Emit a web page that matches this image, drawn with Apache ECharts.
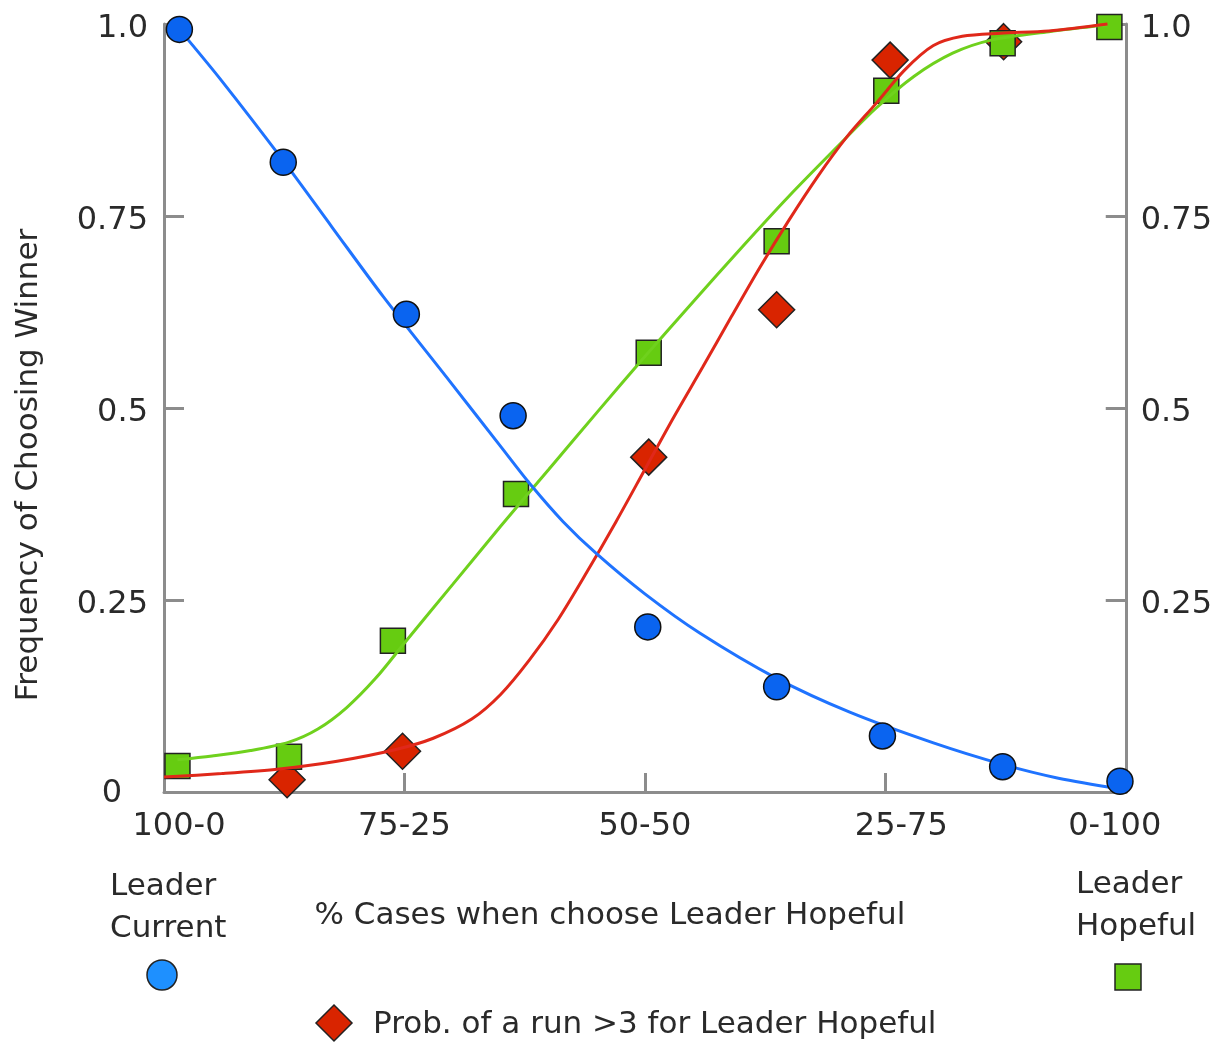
<!DOCTYPE html>
<html>
<head>
<meta charset="utf-8">
<style>
html,body{margin:0;padding:0;background:#fff;}
#chart{width:1215px;height:1043px;}
</style>
<script src="https://cdn.jsdelivr.net/npm/echarts@6/dist/echarts.min.js"></script>
</head>
<body>
<div id="chart"></div>
<script>
// ---- data ----
var xTickLabels = ['100-0', '75-25', '50-50', '25-75', '0-100'];
var yTickLabels = ['0', '0.25', '0.5', '0.75', '1.0'];

var currentX = [1.6, 12.4, 25.2, 36.3, 50.3, 63.7, 74.7, 87.2, 99.4];
var currentY = [0.993, 0.82, 0.622, 0.49, 0.215, 0.137, 0.073, 0.033, 0.014];

var hopefulX = [1.4, 13.0, 23.8, 36.6, 50.4, 63.7, 75.1, 87.2, 98.3];
var hopefulY = [0.034, 0.046, 0.197, 0.388, 0.572, 0.717, 0.913, 0.975, 0.996];

var runX = [12.8, 24.8, 50.4, 63.7, 75.5, 87.3];
var runY = [0.016, 0.053, 0.436, 0.628, 0.953, 0.977];

var currentCurve = [[1.6,0.993],[6,0.926],[12.4,0.822],[17.5,0.735],[22.8,0.645],[29.7,0.535],[35,0.45],[38,0.402],[41.5,0.352],[45,0.31],[50,0.258],[55.7,0.207],[63.7,0.148],[71.3,0.104],[80,0.064],[87.2,0.036],[93,0.018],[99.4,0.004]];
var hopefulCurve = [[1.4,0.042],[5,0.047],[9,0.054],[13,0.065],[16,0.082],[19,0.11],[22,0.148],[25,0.194],[30,0.27],[35,0.346],[40,0.42],[45,0.494],[50,0.567],[55,0.638],[60,0.708],[65,0.776],[70,0.84],[74,0.89],[78,0.932],[82,0.962],[86,0.979],[92,0.99],[98.1,0.999]];
var runCurve = [[0,0.0195],[6,0.024],[12,0.03],[18,0.04],[24,0.055],[28,0.07],[32,0.095],[35,0.127],[38,0.172],[41,0.225],[44,0.287],[47,0.352],[50,0.42],[53,0.488],[56,0.553],[59,0.619],[62,0.684],[65,0.745],[68,0.802],[71,0.853],[74,0.896],[77,0.94],[80,0.972],[83,0.984],[87,0.988],[92,0.991],[98.1,1.0]];

// ---- styles ----
var FONT = 'DejaVu Sans';
var TXT = '#2a2a2a';
var AXIS = '#8c8c8c';
var FS = 31;
var TFS = 32;

function zip(xs, ys) { return xs.map(function (x, i) { return [x, ys[i]]; }); }

var xRichKeys = ['a', 'm', 'm', 'b', 'c'];
function baseRich(pad) { return { fontFamily: FONT, fontSize: TFS, color: TXT, padding: pad }; }

var chart = echarts.init(document.getElementById('chart'));
chart.setOption({
  animation: false,
  backgroundColor: '#fff',
  grid: { left: 164, right: 89, top: 24, bottom: 251 },
  xAxis: {
    type: 'value', min: 0, max: 100, interval: 25,
    name: '% Cases when choose Leader Hopeful',
    nameLocation: 'middle', nameGap: 108,
    nameTextStyle: { fontFamily: FONT, fontSize: FS, color: TXT, padding: [0, 70, 0, 0] },
    axisLine: { show: true, lineStyle: { color: AXIS, width: 3 } },
    axisTick: { show: true, inside: true, length: 19, lineStyle: { color: AXIS, width: 3 } },
    splitLine: { show: false },
    axisLabel: {
      margin: 19,
      formatter: function (v) { var i = Math.round(v / 25); return '{' + xRichKeys[i] + '|' + xTickLabels[i] + '}'; },
      rich: { a: baseRich([0, 0, 0, 30]), m: baseRich([0, 0, 0, 0]), b: baseRich([0, 0, 0, 32]), c: baseRich([0, 22, 0, 0]) }
    }
  },
  yAxis: [{
    type: 'value', min: 0, max: 1, interval: 0.25, position: 'left',
    name: 'Frequency of Choosing Winner',
    nameLocation: 'middle', nameGap: 120, nameRotate: 90,
    nameTextStyle: { fontFamily: FONT, fontSize: FS, color: TXT, padding: [0, 114, 0, 0] },
    axisLine: { show: true, lineStyle: { color: AXIS, width: 3 } },
    axisTick: { show: true, inside: true, length: 20, lineStyle: { color: AXIS, width: 3 } },
    splitLine: { show: false },
    axisLabel: {
      margin: 16,
      formatter: function (v) { var i = Math.round(v / 0.25); return i === 0 ? '{z|' + yTickLabels[i] + '}' : '{n|' + yTickLabels[i] + '}'; },
      rich: { z: baseRich([4, 26, 0, 0]), n: baseRich([9, 0, 0, 0]) }
    }
  }, {
    type: 'value', min: 0, max: 1, interval: 0.25, position: 'right',
    axisLine: { show: true, lineStyle: { color: AXIS, width: 3 } },
    axisTick: { show: true, inside: true, length: 20, lineStyle: { color: AXIS, width: 3 } },
    splitLine: { show: false },
    axisLabel: {
      margin: 15,
      formatter: function (v) { var i = Math.round(v / 0.25); return i === 0 ? '' : '{n|' + yTickLabels[i] + '}'; },
      rich: { n: baseRich([9, 0, 0, 0]) }
    }
  }],
  series: [
    { name: 'Prob. of a run >3 for Leader Hopeful', type: 'scatter', z: 2, clip: false,
      symbol: 'diamond', symbolSize: 36, data: zip(runX, runY),
      itemStyle: { color: '#d92400', opacity: 1, borderColor: '#222', borderWidth: 1.5 } },
    { name: 'Leader Hopeful', type: 'scatter', z: 3, clip: false,
      symbol: 'rect', symbolSize: 25, data: zip(hopefulX, hopefulY),
      itemStyle: { color: '#66cc11', opacity: 1, borderColor: '#222', borderWidth: 1.5 } },
    { name: 'Hopeful fit', type: 'line', z: 4, smooth: 0.3, showSymbol: false, clip: false,
      data: hopefulCurve, lineStyle: { color: '#6fd11d', width: 3 } },
    { name: 'Run fit', type: 'line', z: 5, smooth: 0.3, showSymbol: false, clip: false,
      data: runCurve, lineStyle: { color: '#e0281a', width: 3 } },
    { name: 'Current fit', type: 'line', z: 5, smooth: 0.3, showSymbol: false, clip: false,
      data: currentCurve, lineStyle: { color: '#1f73ff', width: 3 } },
    { name: 'Leader Current', type: 'scatter', z: 6, clip: false,
      symbol: 'circle', symbolSize: 26, data: zip(currentX, currentY),
      itemStyle: { color: '#0a64f0', opacity: 1, borderColor: '#111', borderWidth: 1.5 } }
  ],
  graphic: [
    { type: 'text', left: 110, top: 871, style: { text: 'Leader', fontFamily: FONT, fontSize: FS, fill: TXT } },
    { type: 'text', left: 110, top: 913, style: { text: 'Current', fontFamily: FONT, fontSize: FS, fill: TXT } },
    { type: 'circle', shape: { cx: 162, cy: 975, r: 15 }, style: { fill: '#1e90ff', stroke: '#222', lineWidth: 1.5 } },
    { type: 'text', left: 1076, top: 869, style: { text: 'Leader', fontFamily: FONT, fontSize: FS, fill: TXT } },
    { type: 'text', left: 1076, top: 911, style: { text: 'Hopeful', fontFamily: FONT, fontSize: FS, fill: TXT } },
    { type: 'rect', shape: { x: 1115, y: 964, width: 26, height: 26 }, style: { fill: '#66cc11', stroke: '#222', lineWidth: 1.5 } },
    { type: 'polygon', shape: { points: [[334, 1005], [352, 1023], [334, 1041], [316, 1023]] }, style: { fill: '#d92400', stroke: '#222', lineWidth: 1.5 } },
    { type: 'text', left: 373, top: 1009, style: { text: 'Prob. of a run >3 for Leader Hopeful', fontFamily: FONT, fontSize: FS, fill: TXT } }
  ]
});
</script>
</body>
</html>
